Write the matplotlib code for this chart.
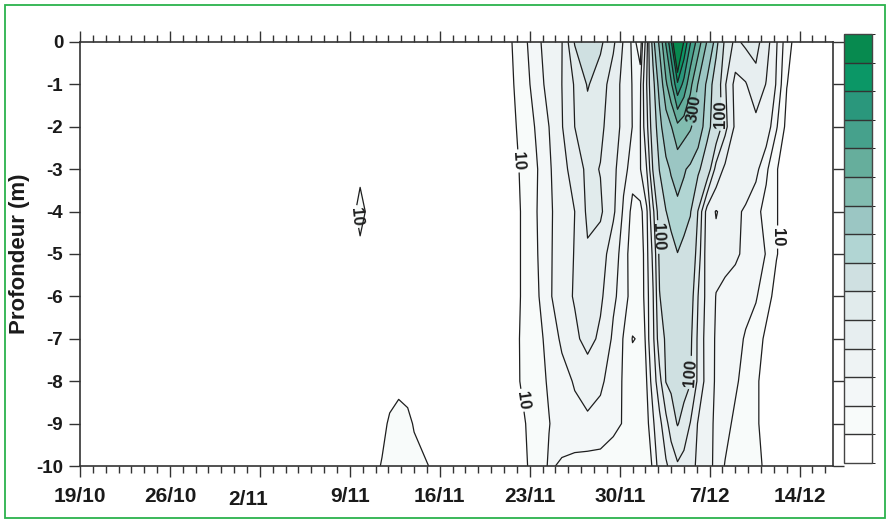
import numpy as np
import matplotlib
matplotlib.use("Agg")
import matplotlib.pyplot as plt
from matplotlib.colors import ListedColormap, BoundaryNorm
from matplotlib.patches import Rectangle
from matplotlib.ticker import MultipleLocator

# ---------------- data ----------------
# days since 19/10
days = [0, 20, 21, 21.8, 22.6, 23.5, 24.1, 24.8, 25.5, 26, 27, 28,
        31, 32.5,
        33.5, 34.5, 35.5, 36.5, 37.5, 38.5, 39.5, 40.5, 41.5, 42.3, 43.0, 43.6,
        44.1, 44.6, 45.1, 45.6, 46.0, 46.5, 47.0, 47.5, 48.1,
        48.8, 49.5, 50.2, 51.0, 51.8, 52.6, 53.4, 54.2, 55.0, 55.8, 56.6, 58.6]
depths = [0, -1, -2, -3, -4, -5, -6, -7, -8, -9, -10]

conc_0m = [3, 3, 4, 4, 4, 4, 4, 4, 4, 4, 4, 4, 5, 6,
           9, 17.5, 25.5, 37.4, 49, 102, 109.5, 105, 80, 47.8, 26, 12,
           62, 173, 322, 510, 680, 1100, 790, 607, 452,
           293, 166, 91, 70, 80, 84, 60, 31, 14, 6, 4, 3]
conc_1m = [3, 3, 4, 4, 4, 4, 4, 4, 4, 4, 4, 4, 5, 5.5,
           8, 15.7, 24, 34, 50, 77.5, 102, 88, 62, 43, 29, 27,
           75, 134, 222, 383, 480, 680, 568, 426, 294,
           183, 122.5, 77.5, 42, 48, 66, 49, 28.5, 10.3, 5, 4, 3]
conc_2m = [3, 3, 4, 5, 4, 4, 4, 4, 4, 4, 4, 4, 5, 5,
           7.5, 13, 21, 30, 48.5, 75, 89.5, 80, 62, 43, 29.5, 29.5,
           67, 120, 179, 243, 294, 373, 342, 311, 240,
           166, 123, 83, 45, 43, 42, 37, 21, 7, 4.5, 3.5, 3]
conc_3m = [3, 3, 4, 7, 5, 4, 4, 4, 4, 4, 4, 4, 5, 5,
           7, 11.5, 19, 27.5, 42, 60, 81.5, 74, 56, 35, 23.5, 29,
           50, 103, 152, 182, 207, 237, 208, 184, 159,
           120, 66, 45, 40, 40, 33, 22, 10.5, 6, 4.5, 3.5, 3]
conc_4m = [3, 3, 5, 14, 6, 4, 4, 4, 4, 4, 4, 4, 4.5, 4.5,
           6.5, 11, 19.5, 27, 38, 50, 80, 79, 54, 27, 17.5, 17,
           27, 70, 116, 149, 163, 179, 166, 153, 98,
           40, 29, 35, 33, 28, 23, 16.5, 10.5, 6, 4, 3.5, 3]
conc_5m = [3, 3, 4, 7, 5, 4, 4, 4, 4, 4, 4, 4, 4.5, 4.5,
           6.5, 11, 19, 27, 39.5, 51, 72, 62, 37, 24, 15.5, 15,
           25, 55, 106, 122, 135, 149, 138, 125, 88,
           37, 35, 33, 31.5, 28, 25, 19.5, 10.5, 6, 4, 3.5, 3]
conc_6m = [3, 3, 4, 5, 4, 4, 4, 4, 4, 4, 4, 4, 4.5, 4.5,
           6.5, 11, 18, 27, 41, 52, 66, 54, 33, 23, 17, 16.5,
           23, 49, 99, 112, 122, 136, 126, 114, 75,
           41, 29.5, 27.5, 25.5, 23.5, 21, 13.5, 7, 5, 4, 3.5, 3]
conc_7m = [3, 3, 4, 4, 4, 5, 5, 5, 5, 5, 4, 4, 4.5, 4.5,
           6.5, 11.5, 16.5, 23, 32, 45, 58, 45.5, 27, 19.5, 9.5, 11,
           23, 45, 90, 103, 111, 124, 116, 106, 70,
           38, 28.5, 26, 23.5, 19, 14.5, 8, 6, 5, 4, 3.5, 3]
conc_8m = [3, 3, 4, 4, 4, 6, 7, 8.5, 7.5, 7, 5, 4, 4.5, 4.5,
           6, 11.5, 16.5, 21, 26, 31, 36, 32, 25, 19, 15, 14.5,
           20, 36, 67, 101, 105, 113, 108, 102, 70,
           39, 28, 24.5, 21.5, 16.5, 11, 7.5, 6, 5, 4, 3.5, 3]
conc_9m = [3, 3, 4, 5, 5, 8, 11, 12, 11.5, 9.5, 7, 5, 4.5, 4.5,
           5.5, 9, 14.5, 19.7, 24, 26.5, 27.5, 26, 22, 19.5, 16, 15,
           17, 28, 43, 67, 88, 101.5, 92, 74, 48,
           36, 27, 23, 18, 15, 11, 7.5, 6, 5, 4, 3.5, 3]
conc_10m = [3, 3, 4, 5, 7, 10.5, 13, 14, 13.5, 12, 10.3, 8, 5, 5,
            6, 8, 14, 21, 19, 17, 16, 16, 15.5, 15, 15, 15,
            16, 21, 36, 46.5, 57, 72, 65, 57, 46,
            37, 25.5, 19.5, 17, 14, 11.5, 9, 6, 5, 4, 3.5, 3]

levels = [0, 10, 20, 30, 50, 75, 100, 150, 200, 300, 400, 500, 600, 700, 800, 1200]
band_colors = ['#ffffff', '#f8fbfa', '#f3f7f8', '#eef3f4', '#e7eef0', '#e1ebec',
               '#cfe0e1', '#b1d5d3', '#9bc6c3', '#82bcb0', '#66ae9c', '#46a18c',
               '#2a977c', '#0b9766', '#078a4f']
labelled_levels = [10, 100, 300]
tick_days = [0, 7, 14, 21, 28, 35, 42, 49, 56]
tick_labels = ['19/10', '26/10', '2/11', '9/11', '16/11', '23/11', '30/11', '7/12', '14/12']
depth_ticks = [0, -1, -2, -3, -4, -5, -6, -7, -8, -9, -10]

# ---------------- layout ----------------
FONT = ['Liberation Sans', 'DejaVu Sans']
W, H = 890, 522
fig = plt.figure(figsize=(W / 100, H / 100), dpi=100)
ax = fig.add_axes([80 / W, 1 - 466 / H, (833 - 80) / W, (466 - 42) / H])

Z = np.array([conc_0m, conc_1m, conc_2m, conc_3m, conc_4m, conc_5m,
              conc_6m, conc_7m, conc_8m, conc_9m, conc_10m])
X, Y = np.meshgrid(days, depths)

cmap = ListedColormap(band_colors)
norm = BoundaryNorm(levels, cmap.N)
cf = ax.contourf(X, Y, Z, levels=levels, cmap=cmap, norm=norm)
plain_levels = [v for v in levels[1:-1] if v not in labelled_levels]
cs = ax.contour(X, Y, Z, levels=plain_levels, colors='#1e1e1e', linewidths=0.9)
cs_lab = ax.contour(X, Y, Z, levels=labelled_levels, colors='#1e1e1e', linewidths=0.9)

label_spots = [(34.4, -2.8), (34.4, -8.45), (21.8, -4.1), (54.2, -4.6),
               (44.9, -4.6), (47.8, -7.8), (50.0, -1.7), (48.3, -1.6)]
texts = ax.clabel(cs_lab, manual=label_spots, fmt='%d',
                  fontsize=12, inline=True, inline_spacing=1)
for t in texts:
    t.set_fontfamily(FONT)
    t.set_fontweight('bold')

ax.set_xlim(0, 58.6)
ax.set_ylim(-10, 0)

ax.set_xticks(tick_days)
ax.xaxis.set_minor_locator(MultipleLocator(1))
ax.set_xticklabels([])
ax.tick_params(axis='x', which='major', direction='out', length=8, width=1,
               color='#333333', top=True, bottom=True)
ax.tick_params(axis='x', which='minor', direction='out', length=5, width=1,
               color='#333333', top=True, bottom=True)

ax.set_yticks(depth_ticks)
ax.set_yticklabels([str(v) for v in depth_ticks])
ax.tick_params(axis='y', direction='out', length=8, width=1, color='#333333',
               left=True, right=True, pad=4, labelsize=13.5, labelcolor='#1a1a1a')
for lab in ax.get_yticklabels():
    lab.set_fontfamily(FONT)
    lab.set_fontweight('bold')

for s in ax.spines.values():
    s.set_color('#333333')
    s.set_linewidth(1.2)

label_offsets = {'2/11': (-12, -39)}
for d, lbl in zip(tick_days, tick_labels):
    dx, dy = label_offsets.get(lbl, (0, -36))
    ax.annotate(lbl, xy=(d, 0), xycoords=('data', 'axes fraction'),
                xytext=(dx, dy), textcoords='offset pixels',
                ha='center', va='baseline', fontsize=15,
                fontfamily=FONT, fontweight='bold', color='#1a1a1a',
                annotation_clip=False)

ax.set_ylabel('Profondeur (m)', fontsize=16, fontfamily=FONT,
              fontweight='bold', color='#1a1a1a')
ax.yaxis.set_label_coords((30 - 80) / (833 - 80), 0.5)

# colour bar
cax = fig.add_axes([844 / W, 1 - 463 / H, 28 / W, 429 / H])
cb = fig.colorbar(cf, cax=cax, spacing='uniform', drawedges=True)
cb.set_ticks([])
cb.outline.set_edgecolor('#444444')
cb.outline.set_linewidth(1.0)
cb.dividers.set_color('#333333')
cb.dividers.set_linewidth(1.0)

# green frame
fig.patches.append(Rectangle((5 / W, 4 / H), 880 / W, 513 / H,
                             transform=fig.transFigure, fill=False,
                             edgecolor='#2bb24c', linewidth=1.3))

fig.savefig('out.png', dpi=100)
